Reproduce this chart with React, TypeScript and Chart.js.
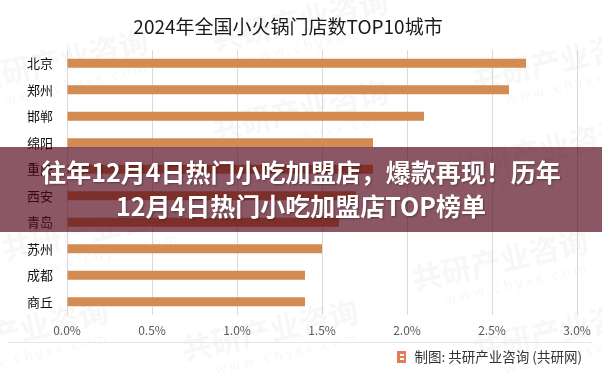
import React, { useEffect, useRef } from "react";
import { Chart, registerables } from "chart.js";

Chart.register(...registerables);

const TITLE = "2024年全国小火锅门店数TOP10城市";
const cities = ["北京", "郑州", "邯郸", "绵阳", "重庆", "西安", "青岛", "苏州", "成都", "商丘"];
const shares = [2.7, 2.6, 2.1, 1.8, 1.8, 1.7, 1.6, 1.5, 1.4, 1.4];
const xTickMin = 0;
const xTickMax = 3;
const xTickStep = 0.5;
const BANNER_LINES = ["往年12月4日热门小吃加盟店，爆款再现！历年", "12月4日热门小吃加盟店TOP榜单"];
const SOURCE = "制图: 共研产业咨询 (共研网)";
const WATERMARK = "共研产业咨询";
const WATERMARK_URL = "www.chyxx.com";

const FONT = '"Noto Sans CJK SC", "Noto Sans", sans-serif';

const overlayPlugin = {
  id: "overlay",
  beforeDraw(chart: any) {
    const ctx = chart.ctx as CanvasRenderingContext2D;
    ctx.save();
    ctx.fillStyle = "#ffffff";
    ctx.fillRect(0, 0, chart.width, chart.height);
    const marks: [number, number][] = [
      [60, 60], [300, 20], [560, 60], [300, 110], [540, 150], [90, 230], [500, 260], [270, 330], [560, 330], [20, 330],
    ];
    ctx.fillStyle = "rgba(150,150,150,0.08)";
    marks.forEach(([x, y]) => {
      ctx.save();
      ctx.translate(x, y);
      ctx.rotate(-0.22);
      ctx.font = `bold 30px ${FONT}`;
      ctx.textAlign = "center";
      ctx.textBaseline = "middle";
      ctx.fillText(WATERMARK, 0, 0);
      ctx.font = `14px ${FONT}`;
      ctx.fillText(WATERMARK_URL.split("").join(" "), 10, 26);
      ctx.restore();
    });
    ctx.restore();
  },
  afterDraw(chart: any) {
    const ctx = chart.ctx as CanvasRenderingContext2D;
    ctx.save();
    ctx.fillStyle = "#1a1a1a";
    ctx.font = `19px ${FONT}`;
    ctx.textAlign = "center";
    ctx.textBaseline = "middle";
    ctx.fillText(TITLE, 288, 27, 312);

    ctx.strokeStyle = "#e6e6e6";
    ctx.lineWidth = 1;
    ctx.beginPath();
    ctx.moveTo(8, 342.5);
    ctx.lineTo(592, 342.5);
    ctx.stroke();

    ctx.fillStyle = "#e8785a";
    ctx.fillRect(397, 351, 9, 12);
    ctx.fillStyle = "#ffffff";
    ctx.fillRect(400, 354, 4, 2);
    ctx.fillRect(400, 358, 4, 2);

    ctx.fillStyle = "#333333";
    ctx.font = `13.5px ${FONT}`;
    ctx.textAlign = "right";
    ctx.fillText(SOURCE, 582, 357, 170);

    ctx.fillStyle = "rgba(81,0,20,0.66)";
    ctx.fillRect(0, 147, chart.width, 85);
    ctx.fillStyle = "#ffffff";
    ctx.font = `bold 25px ${FONT}`;
    ctx.textAlign = "center";
    ctx.shadowColor = "rgba(0,0,0,0.35)";
    ctx.shadowBlur = 2;
    ctx.shadowOffsetX = 1;
    ctx.shadowOffsetY = 1;
    ctx.fillText(BANNER_LINES[0], 301, 172);
    ctx.fillText(BANNER_LINES[1], 301, 206);
    ctx.restore();
  },
};

export default function App() {
  const ref = useRef<HTMLCanvasElement | null>(null);

  useEffect(() => {
    document.body.style.margin = "0";
    const canvas = ref.current;
    if (!canvas) return;
    const chart = new Chart(canvas, {
      type: "bar",
      data: {
        labels: cities,
        datasets: [
          {
            data: shares,
            backgroundColor: "#d38b52",
            barPercentage: 0.68,
            categoryPercentage: 0.5,
          },
        ],
      },
      options: {
        indexAxis: "y",
        responsive: false,
        animation: false,
        devicePixelRatio: 1,
        layout: { padding: { top: 50, right: 25, bottom: 31, left: 0 } },
        plugins: {
          legend: { display: false },
          title: { display: false },
          tooltip: { enabled: false },
        },
        scales: {
          x: {
            min: xTickMin,
            max: xTickMax,
            ticks: {
              stepSize: xTickStep,
              padding: 8,
              color: "#595959",
              font: { family: FONT, size: 12 },
              callback: (v: any) => Number(v).toFixed(1) + "%",
            },
            grid: { color: "#d9d9d9", drawTicks: false, lineWidth: 1 },
            border: { display: false },
            afterFit: (scale: any) => {
              scale.height = 30;
            },
          },
          y: {
            ticks: {
              padding: 14,
              color: "#111111",
              font: { family: FONT, size: 13 },
            },
            grid: { display: false, drawTicks: false },
            border: { display: false },
            afterFit: (scale: any) => {
              scale.width = 67;
            },
          },
        },
      },
      plugins: [overlayPlugin],
    } as any);
    return () => chart.destroy();
  }, []);

  return (
    <div style={{ width: 602, height: 376 }}>
      <canvas ref={ref} width={602} height={376} style={{ display: "block", width: 602, height: 376 }} />
    </div>
  );
}
